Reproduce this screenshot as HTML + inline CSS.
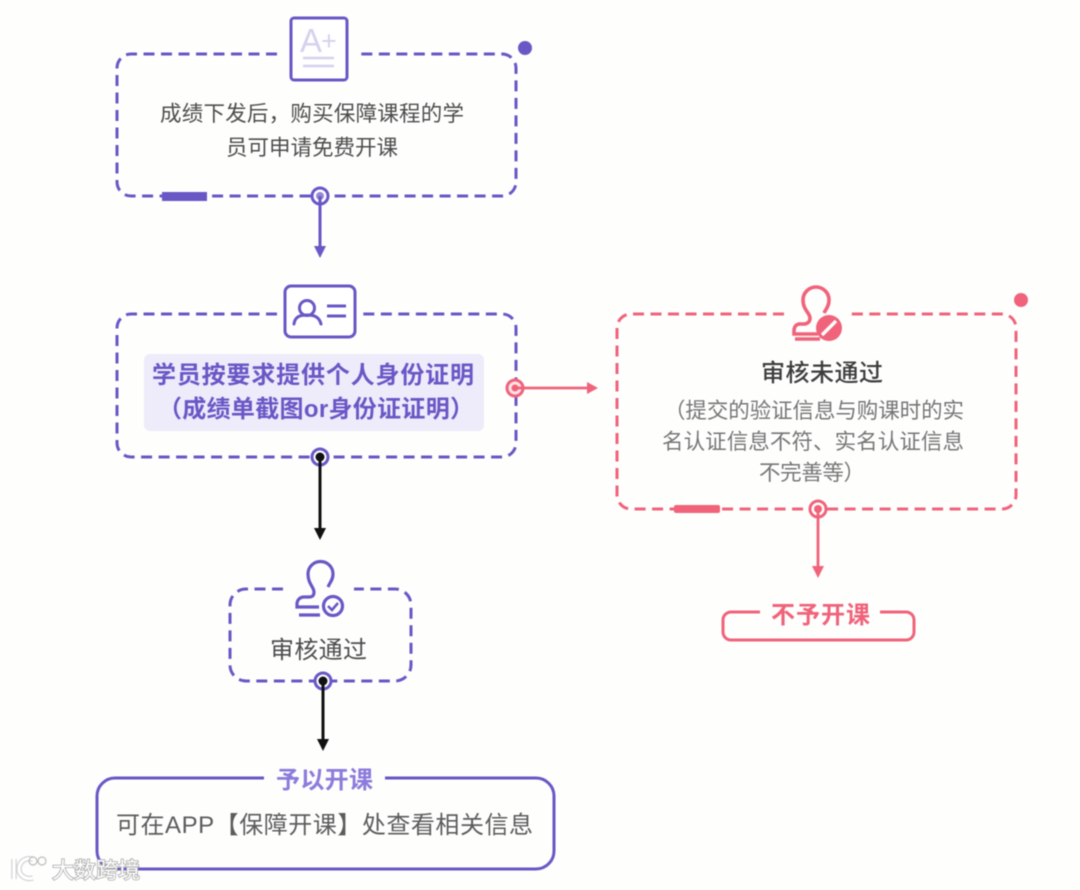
<!DOCTYPE html>
<html><head><meta charset="utf-8">
<style>
html,body{margin:0;padding:0;background:#fefefd;width:1080px;height:890px;overflow:hidden}
svg{display:block;filter:blur(0.6px)}
text{font-family:"Liberation Sans","Noto Sans CJK SC",sans-serif;dominant-baseline:alphabetic}
.b{font-size:21.500px;fill:#4d4d4d}
.g{font-size:21.500px;fill:#767676}
.p{fill:#6a57c6;font-size:24px;font-weight:700}
.d{fill:none;stroke-width:3;stroke-dasharray:11 6.5}
</style></head><body>
<svg width="1080" height="890" viewBox="0 0 1080 890" xmlns="http://www.w3.org/2000/svg">
<g class="d" stroke="#6a57c6">
<path d="M277 54H131a14 14 0 0 0-14 14V182a14 14 0 0 0 14 14H502a14 14 0 0 0 14-14V68a14 14 0 0 0-14-14H361"/>
<path d="M277 314H131a14 14 0 0 0-14 14V443a14 14 0 0 0 14 14H502a14 14 0 0 0 14-14V328a14 14 0 0 0-14-14H363"/>
<path d="M283 589H246a16 16 0 0 0-16 16V665a16 16 0 0 0 16 16H395a16 16 0 0 0 16-16V605a16 16 0 0 0-16-16H354"/>
</g>
<path class="d" stroke="#f0637a" d="M784 314H631a14 14 0 0 0-14 14V495a14 14 0 0 0 14 14H1002a14 14 0 0 0 14-14V328a14 14 0 0 0-14-14H851"/>
<circle cx="525" cy="48" r="7" fill="#6a57c6"/>
<circle cx="1021" cy="300" r="7" fill="#f0637a"/>
<rect x="162" y="192" width="45" height="9" fill="#6a57c6"/>
<rect x="674" y="505" width="46" height="8" rx="2" fill="#f0637a"/>

<!-- A+ icon -->
<rect x="291" y="18" width="56" height="62" rx="3" fill="#fff" stroke="#6a57c6" stroke-width="3"/>
<text x="300" y="52" style="font-size:33px;fill:#d6d1ee">A</text>
<text x="321" y="50" style="font-size:27px;fill:#d6d1ee">+</text>
<path d="M303 58H334M303 66H334" stroke="#d6d1ee" stroke-width="2.400"/>

<!-- Person icon -->
<rect x="285" y="286" width="70" height="51" rx="6" fill="#fff" stroke="#6a57c6" stroke-width="3"/>
<circle cx="307" cy="308" r="7.500" fill="none" stroke="#6a57c6" stroke-width="3"/>
<path d="M294 324c1-8 7-9 13-9s12 1 14 9" fill="none" stroke="#6a57c6" stroke-width="3" stroke-linecap="round"/>
<path d="M327 306H346M327 316H346" stroke="#6a57c6" stroke-width="3"/>

<!-- Pink stamp -->
<g fill="none" stroke="#f0637a" stroke-width="3.600">
<path d="M810 318c0-5-7-8-7-18a13 13 0 0 1 26 0c0 6-3 9-5 13"/>
<path d="M810 318c0 3-1 5-5 6h-5c-4 0-6 3-6 7v3h24"/>
<path d="M795 339H820"/>
</g>
<circle cx="829" cy="328" r="13" fill="#f0637a"/>
<path d="M822 335L836 321" stroke="#fff" stroke-width="3.400"/>

<!-- Purple stamp -->
<g fill="none" stroke="#6a57c6" stroke-width="3.200">
<path d="M314 592c0-5-6-8-6-18a12.500 12.500 0 0 1 25 0c0 6-3 8-5 13"/>
<path d="M314 592c0 3-1 5-5 5h-5c-4 0-7 3-7 7v3h22"/>
<path d="M299 615H320"/>
<circle cx="333" cy="606" r="9.500"/>
<path d="M328 606l4 4 6-7" stroke-width="2.600"/>
</g>

<!-- Text -->
<text class="b" x="160" y="121" textLength="304">成绩下发后，购买保障课程的学</text>
<text class="b" x="226" y="155" textLength="172">员可申请免费开课</text>

<rect x="144" y="354" width="340" height="77" rx="6" fill="#eeebfb"/>
<text class="p" x="152" y="383" textLength="322">学员按要求提供个人身份证明</text>
<text class="p" x="158" y="417" textLength="316">（成绩单截图or身份证证明）</text>

<text x="761" y="381" textLength="122" style="font-size:24px;fill:#3d3d3d;font-weight:500">审核未通过</text>
<text class="g" x="664" y="418" textLength="300">（提交的验证信息与购课时的实</text>
<text class="g" x="662" y="449" textLength="302">名认证信息不符、实名认证信息</text>
<text class="g" x="759" y="480" textLength="106">不完善等）</text>

<text x="270" y="658" textLength="97" style="font-size:24px;fill:#4d4d4d">审核通过</text>

<!-- Bottom purple box -->
<path d="M264 778H115a18 18 0 0 0-18 18V851a18 18 0 0 0 18 18H536a18 18 0 0 0 18-18V796a18 18 0 0 0-18-18H385" fill="none" stroke="#6a57c6" stroke-width="3"/>
<text x="276" y="788" textLength="97" style="font-size:24px;fill:#8c7bdc;font-weight:700">予以开课</text>
<text x="116" y="833" textLength="417" style="font-size:24px;fill:#5c5c5c">可在APP【保障开课】处查看相关信息</text>

<!-- Bottom pink box -->
<path d="M760 612H731a8 8 0 0 0-8 8V632a8 8 0 0 0 8 8H906a8 8 0 0 0 8-8V620a8 8 0 0 0-8-8H880" fill="none" stroke="#f0637a" stroke-width="3"/>
<text x="771" y="623" textLength="99" style="font-size:24px;fill:#f0637a;font-weight:700">不予开课</text>

<!-- Connectors -->
<circle cx="320" cy="196" r="8" fill="#fff" stroke="#6a57c6" stroke-width="3"/>
<circle cx="320" cy="196" r="4" fill="#6a57c6" fill-opacity=".7"/>
<path d="M320 196V246" stroke="#6a57c6" stroke-width="3"/>
<path d="M314 246H326L320 258Z" fill="#6a57c6"/>

<circle cx="320" cy="457" r="8" fill="#fff" stroke="#6a57c6" stroke-width="3"/>
<circle cx="320" cy="457" r="4.500" fill="#111"/>
<path d="M320 457V528" stroke="#111" stroke-width="3"/>
<path d="M314 528H326L320 540Z" fill="#111"/>

<circle cx="323" cy="681" r="8" fill="#fff" stroke="#6a57c6" stroke-width="3"/>
<circle cx="323" cy="681" r="4.500" fill="#111"/>
<path d="M323 681V739" stroke="#111" stroke-width="3"/>
<path d="M317 739H329L323 751Z" fill="#111"/>

<circle cx="515" cy="388" r="8" fill="#fde3e7" stroke="#f0637a" stroke-width="3"/>
<circle cx="515" cy="388" r="3.500" fill="#f0637a"/>
<path d="M515 388H587" stroke="#f0637a" stroke-width="2.800"/>
<path d="M587 382V394L598 388Z" fill="#f0637a"/>

<circle cx="818" cy="509" r="8" fill="#fff" stroke="#f0637a" stroke-width="3"/>
<circle cx="818" cy="509" r="4" fill="#f0637a"/>
<path d="M818 509V566" stroke="#f0637a" stroke-width="2.800"/>
<path d="M812 566H824L818 578Z" fill="#f0637a"/>

<!-- Watermark -->
<g fill="none" stroke="#d4d4d4" stroke-width="5.500"><path d="M14 859V879"/><path d="M33 859c-9-2-14 4-14 10s6 11 14 9"/></g>
<g fill="none" stroke="#fff" stroke-width="3"><path d="M14 859V879"/><path d="M33 859c-9-2-14 4-14 10s6 11 14 9"/></g>
<g fill="none" stroke="#bdbdbd" stroke-width="1.200"><circle cx="33" cy="861" r="4"/><circle cx="42" cy="861" r="4"/></g>
<text x="52" y="878" textLength="88" style="font-size:22px;fill:#fff;stroke:#aaa;stroke-width:1.600;paint-order:stroke">大数跨境</text>
</svg>
</body></html>
